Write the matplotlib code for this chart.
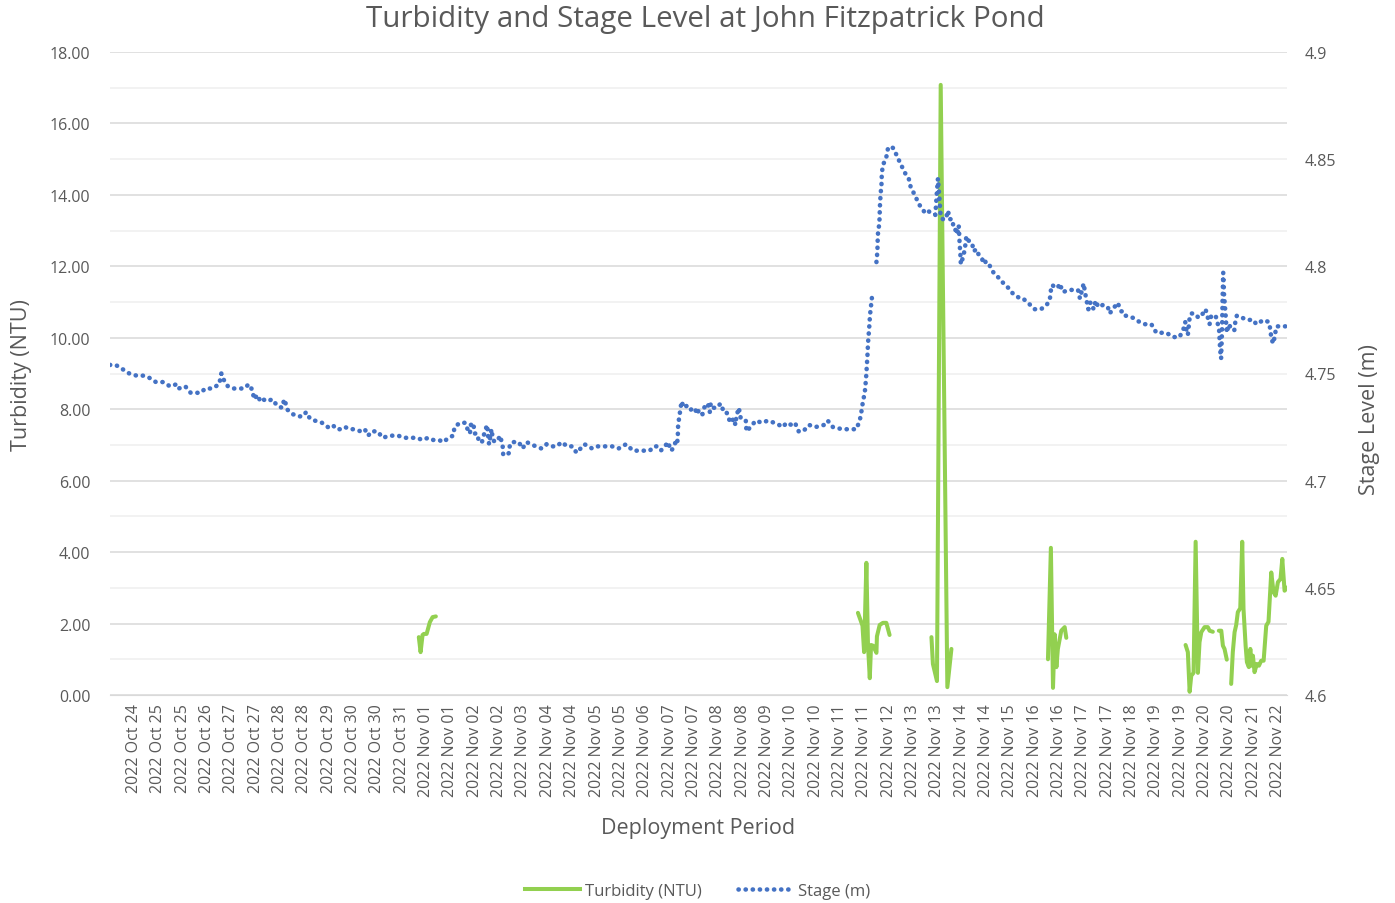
import numpy as np
import matplotlib
matplotlib.use("Agg")
import matplotlib.pyplot as plt
from matplotlib.ticker import MultipleLocator, FormatStrFormatter, FuncFormatter
from matplotlib.lines import Line2D

plt.rcParams['font.family'] = ['Open Sans', 'DejaVu Sans']
grey = '#595959'

# x = hours since first reading
tick_dates = ['Oct 24', 'Oct 25', 'Oct 25', 'Oct 26', 'Oct 27', 'Oct 27', 'Oct 28', 'Oct 28',
              'Oct 29', 'Oct 30', 'Oct 30', 'Oct 31', 'Nov 01', 'Nov 01', 'Nov 02', 'Nov 02',
              'Nov 03', 'Nov 04', 'Nov 04', 'Nov 05', 'Nov 05', 'Nov 06', 'Nov 07', 'Nov 07',
              'Nov 08', 'Nov 08', 'Nov 09', 'Nov 10', 'Nov 10', 'Nov 11', 'Nov 11', 'Nov 12',
              'Nov 13', 'Nov 13', 'Nov 14', 'Nov 14', 'Nov 15', 'Nov 16', 'Nov 16', 'Nov 17',
              'Nov 17', 'Nov 18', 'Nov 19', 'Nov 19', 'Nov 20', 'Nov 20', 'Nov 21', 'Nov 22']
tick_labels = ['2022 ' + d for d in tick_dates]

stage_hours = [
    0, 3.5, 7.8, 11.9, 16.4, 20.8, 24.2, 28.3, 32.8, 37.0, 41.1, 42.3, 46.4, 49.7, 52.8,
    55.9, 58.7, 63.0, 67.3, 68.6, 70.7, 72.7, 76.0, 79.0, 82.5, 85.6, 87.9, 88.7, 91.0,
    92.6, 94.2, 96.9, 100.0, 103.0, 106.0, 107.4, 109.5, 112.7, 116.2, 118.7, 120.9, 123.2,
    126.3, 130.6, 134.3, 137.2, 139.6, 142.7, 144.9, 147.8, 150.5, 154.6, 157.0, 159.1,
    161.2, 164.9, 168.0, 172.5, 177.6, 181.1, 184.8, 189.1, 192.4, 196.1, 199.2, 202.5,
    205.7, 208.4, 211.5, 212.3, 215.6, 218.9, 219.7, 221.8, 222.4, 223.8, 224.8, 226.1,
    227.5, 229.2, 231.0, 232.4, 233.0, 233.6, 235.1, 236.0, 237.3, 239.8, 240.2, 241.9,
    242.3, 244.4, 246.0, 246.4, 248.1, 251.9, 254.2, 256.7, 262.4, 265.9, 269.0, 271.8,
    275.2, 278.4, 281.7, 285.0, 287.5, 292.4, 297.1, 300.4, 304.1, 306.9, 309.4, 313.4,
    318.0, 322.3, 325.4, 329.6, 332.6, 335.3, 336.8, 339.4, 341.9, 343.9, 345.6, 347.0,
    348.5, 349.5, 349.9, 350.1, 352.2, 353.6, 355.6, 357.5, 360.4, 361.6, 363.0, 365.1,
    366.1, 367.1, 368.4, 369.6, 370.2, 371.6, 374.1, 376.2, 377.8, 379.4, 382.3, 384.4,
    385.4, 386.0, 387.5, 388.7, 391.8, 392.2, 394.7, 397.9, 401.8, 405.3, 409.4, 412.3,
    414.7, 416.8, 419.9, 422.1, 424.4, 427.1, 430.8, 434.7, 440.0, 442.3, 445.5, 451.3,
    455.4, 459.9, 462.0, 463.0, 464.0, 465.1, 465.7, 466.1, 466.5, 466.8, 467.1, 467.5,
    468.0, 468.3, 469.0, 469.6, 471.0, 472.3, 472.9, 473.0, 473.3, 474.1, 474.3, 474.5,
    474.9, 475.4, 475.6, 476.2, 478.4, 479.4, 481.1, 482.9, 485.2, 487.7, 490.3, 492.2,
    493.4, 496.1, 498.5, 502.2, 503.9, 505.7, 508.6, 509.5, 510.2, 511.0, 511.9, 513.3,
    515.0, 516.4, 517.4, 519.1, 519.8, 520.5, 521.9, 523.0, 523.3, 523.6, 524.0, 524.3,
    526.0, 527.1, 527.7, 529.1, 531.2, 532.2, 533.9, 534.9, 537.6, 538.6, 540.0, 541.6,
    544.5, 547.2, 550.7, 553.5, 556.7, 560.9, 562.6, 565.7, 569.8, 573.7, 577.2, 578.9,
    579.7, 579.9, 581.1, 582.5, 584.1, 585.2, 587.2, 590.9, 593.8, 596.5, 597.7, 598.7,
    600.0, 600.8, 601.8, 602.9, 603.7, 604.9, 606.1, 607.4, 609.0, 611.9, 614.9, 616.0,
    618.0, 620.9, 623.2, 624.6, 625.8, 630.3, 634.5, 637.5, 639.0, 641.7, 644.8, 650.9,
    655.2, 659.1, 661.6, 662.6, 663.6, 664.2, 665.3, 666.3, 668.4, 670.8, 673.5, 675.1,
    676.5, 677.6, 678.6, 681.3, 683.4, 684.1, 684.7, 685.3, 685.6, 686.0, 686.5, 687.4,
    688.2, 689.4, 690.9, 692.8, 693.6, 694.4, 697.7, 700.8, 704.7, 706.3, 711.0, 714.1,
    715.2, 715.6, 717.0, 717.8, 718.9, 720.7, 723.2, 724.8]
stage_m = [
    4.754, 4.754, 4.752, 4.750, 4.749, 4.749, 4.748, 4.746, 4.746, 4.744, 4.745, 4.743,
    4.744, 4.741, 4.741, 4.741, 4.743, 4.743, 4.745, 4.750, 4.746, 4.744, 4.743, 4.743,
    4.743, 4.745, 4.742, 4.738, 4.740, 4.737, 4.738, 4.737, 4.738, 4.735, 4.734, 4.738,
    4.733, 4.731, 4.730, 4.730, 4.732, 4.729, 4.728, 4.727, 4.725, 4.726, 4.724, 4.724,
    4.725, 4.724, 4.724, 4.723, 4.724, 4.721, 4.723, 4.723, 4.720, 4.721, 4.721, 4.720,
    4.720, 4.720, 4.719, 4.720, 4.719, 4.719, 4.718, 4.720, 4.721, 4.725, 4.727, 4.727,
    4.725, 4.722, 4.726, 4.727, 4.722, 4.722, 4.718, 4.718, 4.723, 4.726, 4.721, 4.717,
    4.724, 4.719, 4.718, 4.720, 4.721, 4.717, 4.712, 4.712, 4.713, 4.717, 4.718, 4.718,
    4.715, 4.718, 4.716, 4.715, 4.717, 4.716, 4.716, 4.718, 4.716, 4.716, 4.713, 4.717,
    4.715, 4.716, 4.716, 4.716, 4.716, 4.715, 4.717, 4.714, 4.714, 4.714, 4.714, 4.716,
    4.716, 4.714, 4.716, 4.718, 4.714, 4.715, 4.718, 4.717, 4.721, 4.726, 4.737, 4.734,
    4.735, 4.733, 4.734, 4.731, 4.733, 4.731, 4.734, 4.735, 4.736, 4.732, 4.736, 4.734,
    4.734, 4.736, 4.733, 4.733, 4.727, 4.729, 4.726, 4.730, 4.734, 4.729, 4.728, 4.723,
    4.725, 4.728, 4.727, 4.728, 4.727, 4.726, 4.725, 4.727, 4.726, 4.727, 4.723, 4.723,
    4.726, 4.725, 4.726, 4.728, 4.725, 4.724, 4.724, 4.724, 4.728, 4.732, 4.737, 4.741,
    4.746, 4.750, 4.755, 4.759, 4.764, 4.768, 4.773, 4.777, 4.782, 4.786, np.nan, 4.802,
    4.807, 4.811, 4.816, 4.820, 4.825, 4.829, 4.834, 4.838, 4.843, 4.847, 4.851, 4.855,
    4.856, 4.855, 4.851, 4.847, 4.843, 4.841, 4.837, 4.833, 4.829, 4.825, 4.826, 4.825,
    4.824, 4.834, 4.841, 4.833, 4.823, 4.822, 4.822, 4.826, 4.822, 4.822, 4.818, 4.818,
    4.815, 4.819, 4.815, 4.810, 4.806, 4.801, 4.805, 4.810, 4.814, 4.812, 4.811, 4.807,
    4.808, 4.806, 4.803, 4.804, 4.801, 4.801, 4.797, 4.795, 4.792, 4.790, 4.787, 4.785,
    4.785, 4.783, 4.780, 4.780, 4.782, 4.784, 4.787, 4.791, 4.791, 4.790, 4.790, 4.792,
    4.788, 4.789, 4.789, 4.789, 4.785, 4.788, 4.792, 4.788, 4.784, 4.780, 4.783, 4.783,
    4.780, 4.784, 4.781, 4.782, 4.781, 4.778, 4.780, 4.783, 4.779, 4.779, 4.777, 4.776,
    4.774, 4.773, 4.773, 4.773, 4.769, 4.769, 4.767, 4.767, 4.771, 4.774, 4.769, 4.768,
    4.776, 4.778, 4.778, 4.776, 4.778, 4.780, 4.776, 4.773, 4.777, 4.777, 4.771, 4.761,
    4.757, 4.771, 4.785, 4.797, 4.787, 4.778, 4.769, 4.773, 4.771, 4.770, 4.775, 4.777,
    4.776, 4.775, 4.775, 4.773, 4.775, 4.774, 4.770, 4.766, 4.764, 4.768, 4.772, 4.772,
    4.772, 4.772]

turb_hours = [
    190.3, 191.4, 192.6, 193.4, 195.1, 197.1, 198.8, 200.8, 300.0,
    460.9, 463.7, 464.7, 466.1, 467.1, 468.2, 469.0, 470.2, 472.3, 472.6, 474.3, 476.3,
    478.4, 480.4, 490.0,
    506.2, 507.1, 509.6, 511.9, 516.0, 518.5, 550.0,
    578.0, 579.8, 581.1, 582.1, 583.2, 584.1, 586.2, 588.3, 589.3, 620.0,
    662.8, 664.2, 665.3, 666.3, 667.7, 669.0, 670.4, 671.4, 672.5, 674.5, 676.5, 677.6,
    679.6, 681.0,
    683.3, 684.8, 685.8, 686.8, 688.2, 689.5,
    690.9, 691.9, 693.0, 694.0, 695.0, 696.5, 697.7, 698.5, 699.8, 700.6, 701.8, 702.7,
    703.5, 704.3, 705.3, 706.7, 708.0, 709.4, 710.9, 712.5, 713.9, 715.6, 717.0, 718.3,
    719.7, 721.3, 722.4, 723.8, 725.8]
turb_ntu = [
    1.62, 1.20, 1.68, 1.71, 1.71, 2.04, 2.18, 2.20, np.nan,
    2.30, 1.94, 1.20, 3.70, 1.38, 0.47, 1.40, 1.38, 1.18, 1.64, 1.96, 2.02,
    2.02, 1.68, np.nan,
    1.62, 0.87, 0.39, 17.08, 0.22, 1.29, np.nan,
    1.00, 4.12, 0.20, 1.70, 0.78, 1.29, 1.80, 1.90, 1.60, np.nan,
    1.40, 1.20, 0.09, 0.54, 0.62, 4.29, 0.62, 1.48, 1.76, 1.90, 1.90, 1.80,
    1.77, np.nan,
    1.80, 1.80, 1.38, 1.29, 0.99, np.nan,
    0.31, 1.20, 1.76, 1.96, 2.32, 2.43, 4.29, 2.41, 1.38, 0.92, 0.78, 1.29,
    0.82, 1.10, 0.64, 0.87, 0.82, 0.96, 0.96, 1.94, 2.05, 3.43, 2.88, 2.78,
    3.16, 3.25, 3.81, 2.92, 3.02]

fig = plt.figure(figsize=(13.95, 9.04), dpi=100)
ax = fig.add_axes([110 / 1395, 1 - 696 / 904, 1177 / 1395, 643 / 904])
ax2 = ax.twinx()

ax.set_xlim(0, 725.3)
ax.set_ylim(0, 18)
ax2.set_ylim(4.6, 4.9)

ax.yaxis.set_major_locator(MultipleLocator(2))
ax.yaxis.set_minor_locator(MultipleLocator(1))
ax.yaxis.set_major_formatter(FormatStrFormatter('%.2f'))
ax.set_axisbelow(True)
ax.grid(which='major', axis='y', color='#d9d9d9', lw=1.1)
ax.grid(which='minor', axis='y', color='#efefef', lw=1.1)

ax2.yaxis.set_major_locator(MultipleLocator(0.05))
ax2.yaxis.set_major_formatter(FuncFormatter(lambda v, p: '%g' % round(v, 2)))

ax.set_xticks(14.8 + 15 * np.arange(len(tick_labels)))
ax.set_xticklabels(tick_labels, rotation=90)

for a in (ax, ax2):
    for s in a.spines.values():
        s.set_visible(False)
    a.tick_params(which='both', length=0, colors=grey, labelsize=11.5)
ax.spines['bottom'].set_visible(True)
ax.spines['bottom'].set_color('#d9d9d9')
ax.tick_params(axis='x', labelsize=11.5, pad=6)
ax.tick_params(axis='y', pad=14)
ax2.tick_params(axis='y', pad=13)

ax.plot(turb_hours, turb_ntu, color='#92D050', lw=2.9, solid_capstyle='round',
        solid_joinstyle='round', label='Turbidity (NTU)')
ax2.plot(stage_hours, stage_m, color='#4472C4', lw=3.3, linestyle=(0, (0.05, 1.5)),
         dash_capstyle='round', label='Stage (m)')

fig.text(0.5055, 1 - 20 / 904, 'Turbidity and Stage Level at John Fitzpatrick Pond',
         ha='center', va='center', fontsize=21.3, color=grey)
fig.text(22 / 1395, 1 - 375 / 904, 'Turbidity (NTU)', rotation=90, ha='center',
         va='center', fontsize=15.5, color=grey)
fig.text(1369 / 1395, 1 - 420 / 904, 'Stage Level (m)', rotation=90, ha='center',
         va='center', fontsize=15.5, color=grey)
fig.text(698 / 1395, 1 - 829 / 904, 'Deployment Period', ha='center', va='center',
         fontsize=15.5, color=grey)

handles = [Line2D([], [], color='#92D050', lw=2.9),
           Line2D([], [], color='#4472C4', lw=3.3, linestyle=(0, (0.05, 1.5)),
                  dash_capstyle='round')]
leg = fig.legend(handles, ['Turbidity (NTU)', 'Stage (m)'], loc='center',
                 bbox_to_anchor=(0.5, 1 - 892 / 904), ncol=2, frameon=False,
                 fontsize=12, handlelength=3.3, columnspacing=2.2, handletextpad=0.3)
for t in leg.get_texts():
    t.set_color(grey)

fig.savefig('out.png', dpi=100)
